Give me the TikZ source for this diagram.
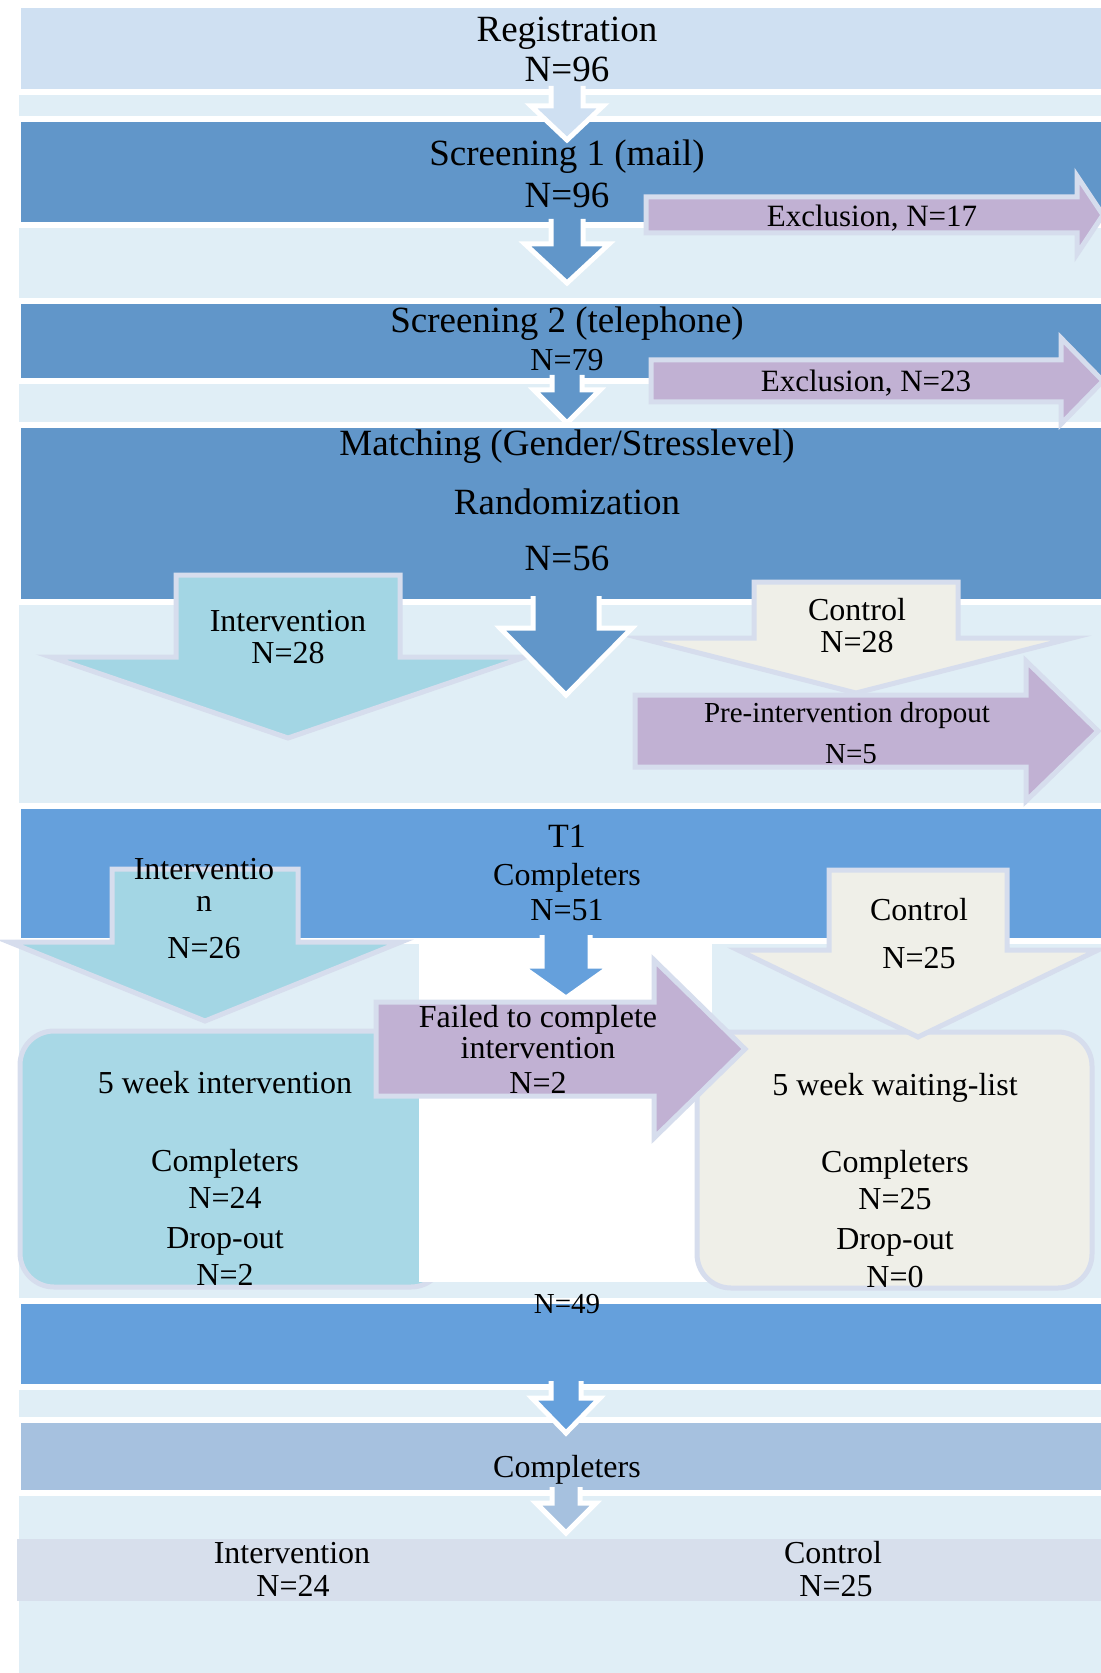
\documentclass[tikz,border=0pt]{standalone}
\usepackage{fontspec}
\setmainfont{Liberation Serif}
\usetikzlibrary{fit}

\definecolor{panelc}{HTML}{E0EEF6}
\definecolor{regc}{HTML}{CFE0F2}
\definecolor{stagec}{HTML}{6196C9}
\definecolor{tonec}{HTML}{65A0DC}
\definecolor{complc}{HTML}{A6C1DF}
\definecolor{groupc}{HTML}{D7DFEC}
\definecolor{tealc}{HTML}{A3D6E4}
\definecolor{tealboxc}{HTML}{A8D8E6}
\definecolor{creamc}{HTML}{EFEFE8}
\definecolor{lavc}{HTML}{C1B1D3}
\definecolor{rimc}{HTML}{D6DDED}

% block arrow pointing down, open at the top (grows out of a band)
% #1 fill, #2 centre x, #3 half shaft, #4 top y, #5 head y, #6 half head, #7 tip y
\newcommand\downopen[7]{%
  \fill[#1] ({#2-#3},#4) -- ({#2-#3},#5) -- ({#2-#6},#5) -- (#2,#7) -- ({#2+#6},#5) -- ({#2+#3},#5) -- ({#2+#3},#4) -- cycle;
  \draw[white, line width=2.5pt, line join=miter] ({#2-#3},#4) -- ({#2-#3},#5) -- ({#2-#6},#5) -- (#2,#7) -- ({#2+#6},#5) -- ({#2+#3},#5) -- ({#2+#3},#4);}
% closed block arrow pointing down, with a pale rim
\newcommand\downclosed[7]{%
  \draw[fill=#1, draw=rimc, line width=2.5pt, line join=miter] ({#2-#3},#4) -- ({#2-#3},#5) -- ({#2-#6},#5) -- (#2,#7) -- ({#2+#6},#5) -- ({#2+#3},#5) -- ({#2+#3},#4) -- cycle;}
% closed block arrow pointing right
% #1 fill, #2 left x, #3 centre y, #4 half shaft, #5 head x, #6 half head, #7 tip x
\newcommand\rightclosed[7]{%
  \draw[fill=#1, draw=rimc, line width=2.5pt, line join=miter] (#2,{#3-#4}) -- (#5,{#3-#4}) -- (#5,{#3-#6}) -- (#7,#3) -- (#5,{#3+#6}) -- (#5,{#3+#4}) -- (#2,{#3+#4}) -- cycle;}

\tikzset{
  band/.style={inner sep=0pt, draw=white, line width=3pt},
  lbig/.style={anchor=base, inner sep=0pt, font=\fontsize{18.5}{20}\selectfont},
  lmid/.style={anchor=base, inner sep=0pt, font=\fontsize{16}{18}\selectfont},
  lexc/.style={anchor=base, inner sep=0pt, font=\fontsize{15.5}{17}\selectfont},
  lsml/.style={anchor=base, inner sep=0pt, font=\fontsize{14.5}{16}\selectfont},
  roundbox/.style={draw=rimc, line width=2.5pt, rounded corners=17pt},
}

\begin{document}
\begin{tikzpicture}[x=0.5pt, y=-0.5pt]
\useasboundingbox (0,0) rectangle (1101,1673);

% background panel
\fill[panelc] (19,5) rectangle (1101,1673);

% stage bands
\node[band, fill=regc,   fit={(18,5) (1112,92)}]      (regband) {};
\node[band, fill=stagec, fit={(18,119) (1112,225)}]   (s1band) {};
\node[band, fill=stagec, fit={(18,301) (1112,381)}]   (s2band) {};
\node[band, fill=stagec, fit={(18,425) (1112,602)}]   (matchband) {};
\node[band, fill=tonec,  fit={(18,806) (1112,941)}]   (t1band) {};
\node[band, fill=tonec,  fit={(18,1301) (1112,1387)}] (postband) {};
\node[band, fill=complc, fit={(18,1420) (1112,1493)}] (complband) {};
\fill[groupc] (17,1539) rectangle (1101,1601);

% treatment phase boxes
\draw[roundbox, fill=tealboxc] (20,1031) rectangle (445,1287);
\fill[white] (419,944) rectangle (712,1282);
\draw[roundbox, fill=creamc] (697,1032) rectangle (1092,1288);

% arrows between screening stages
\downopen{regc}{567}{16}{86}{106}{36}{140}
\downopen{stagec}{567}{16}{219}{244}{42}{283}
\downopen{stagec}{567}{15}{375}{390}{33}{423}
\rightclosed{lavc}{646}{215}{18}{1077}{39}{1103}
\rightclosed{lavc}{651}{381}{21}{1061}{43}{1103}

% randomization arrows
\downclosed{tealc}{288}{112}{575}{657}{237}{738}
\downclosed{creamc}{856}{102}{582}{638}{216}{693}
\downopen{stagec}{566}{33}{596}{628}{66}{695}
\rightclosed{lavc}{635}{731}{36}{1026}{70}{1098}

% T1 arrows
\downclosed{tealc}{205}{93}{869}{942}{196}{1021}
\downclosed{creamc}{918}{89}{870}{950}{180}{1037}
\downopen{tonec}{566}{24}{935}{966}{45}{998}
\rightclosed{lavc}{376}{1049}{47}{654}{89}{745}

% arrows to the final groups
\downopen{tonec}{566}{15}{1381}{1398}{34}{1433}
\downopen{complc}{566}{14}{1487}{1503}{30}{1533}

% labels
\node[lbig] (regname) at (567,42)  {Registration};
\node[lbig] (regn)    at (567,82)  {N=96};
\node[lbig] (s1name)  at (567,166) {Screening 1 (mail)};
\node[lbig] (s1n)     at (567,208) {N=96};
\node[lexc] (excla)   at (872,227) {Exclusion, N=17};
\node[lbig] (s2name)  at (567,333) {Screening 2 (telephone)};
\node[lmid] (s2n)     at (567,371) {N=79};
\node[lexc] (exclb)   at (866,392) {Exclusion, N=23};
\node[lbig] (matchname) at (567,456) {Matching (Gender/Stresslevel)};
\node[lbig] (randname)  at (567,515) {Randomization};
\node[lbig] (randn)     at (567,570) {N=56};
\node[lmid] (intaname) at (288,631) {Intervention};
\node[lmid] (intan)    at (288,663) {N=28};
\node[lmid] (ctlaname) at (857,620) {Control};
\node[lmid] (ctlan)    at (857,652) {N=28};
\node[lsml] (prename)  at (847,722) {Pre-intervention dropout};
\node[lsml] (pren)     at (851,763) {N=5};
\node[lmid] (t1name)   at (567,847) {\fontsize{17}{18}\selectfont T1};
\node[lmid] (t1comp)   at (567,885) {Completers};
\node[lmid] (t1n)      at (567,920) {N=51};
\node[lmid] (intbname) at (204,879) {Interventio};
\node[lmid] (intbtail) at (204,911) {n};
\node[lmid] (intbn)    at (204,958) {N=26};
\node[lmid] (ctlbname) at (919,920) {Control};
\node[lmid] (ctlbn)    at (919,968) {N=25};
\node[lmid] (faila)    at (538,1027) {Failed to complete};
\node[lmid] (failb)    at (538,1058) {intervention};
\node[lmid] (failn)    at (538,1093) {N=2};
\node[lmid] (wka)      at (225,1093) {5 week intervention};
\node[lmid] (wkb)      at (225,1171) {Completers};
\node[lmid] (wkc)      at (225,1208) {N=24};
\node[lmid] (wkd)      at (225,1248) {Drop-out};
\node[lmid] (wke)      at (225,1285) {N=2};
\node[lmid] (wla)      at (895,1095) {5 week waiting-list};
\node[lmid] (wlb)      at (895,1172) {Completers};
\node[lmid] (wlc)      at (895,1209) {N=25};
\node[lmid] (wld)      at (895,1249) {Drop-out};
\node[lmid] (wle)      at (895,1287) {N=0};
\node[lsml] (postn)    at (567,1313) {N=49};
\node[lmid] (compname) at (567,1477) {Completers};
\node[lmid] (grpia)    at (292,1563) {Intervention};
\node[lmid] (grpib)    at (293,1596) {N=24};
\node[lmid] (grpca)    at (833,1563) {Control};
\node[lmid] (grpcb)    at (836,1596) {N=25};
\end{tikzpicture}
\end{document}
